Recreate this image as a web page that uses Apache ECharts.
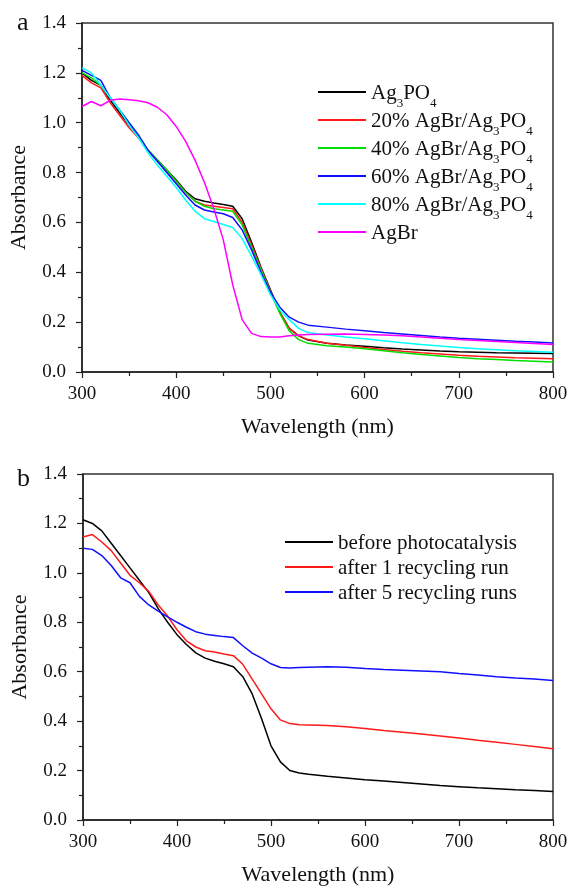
<!DOCTYPE html>
<html><head><meta charset="utf-8">
<script src="https://cdn.jsdelivr.net/npm/echarts@6/dist/echarts.min.js"></script>
<style>html,body{margin:0;padding:0;background:#fff}#c{width:571px;height:887px}</style>
</head><body><div id="c"></div>
<script>
const wavelengths = [300,310,320,330,340,350,360,370,380,390,400,410,420,430,440,450,460,470,480,490,500,510,520,530,540,560,580,600,620,640,660,680,700,720,740,760,780,800];
const xTicks = [300,400,500,600,700,800];
const yTicks = [0,0.2,0.4,0.6,0.8,1.0,1.2,1.4];

// Panel a
const namesA = ['Ag3PO4','20% AgBr/Ag3PO4','40% AgBr/Ag3PO4','60% AgBr/Ag3PO4','80% AgBr/Ag3PO4','AgBr'];
const colorsA = ['#000000','#ff1a1a','#00e000','#1010ff','#00ffff','#ff00ff'];
const ag3po4 = [1.20,1.17,1.15,1.09,1.04,0.99,0.94,0.89,0.85,0.81,0.77,0.725,0.695,0.685,0.678,0.672,0.665,0.615,0.52,0.42,0.33,0.24,0.175,0.145,0.128,0.115,0.108,0.103,0.097,0.092,0.088,0.084,0.081,0.079,0.077,0.076,0.075,0.074];
const agbr20 = [1.19,1.16,1.14,1.08,1.03,0.98,0.94,0.89,0.845,0.805,0.765,0.72,0.685,0.67,0.665,0.66,0.655,0.60,0.51,0.415,0.325,0.24,0.175,0.145,0.13,0.115,0.107,0.098,0.09,0.083,0.077,0.072,0.067,0.063,0.06,0.057,0.055,0.053];
const agbr40 = [1.20,1.18,1.15,1.10,1.05,1.00,0.95,0.89,0.85,0.81,0.765,0.72,0.685,0.665,0.655,0.65,0.645,0.59,0.50,0.41,0.32,0.235,0.165,0.13,0.115,0.105,0.10,0.093,0.085,0.077,0.07,0.064,0.058,0.053,0.05,0.046,0.043,0.040];
const agbr60 = [1.21,1.19,1.17,1.10,1.05,1.00,0.95,0.89,0.845,0.80,0.755,0.71,0.67,0.65,0.642,0.635,0.62,0.57,0.49,0.40,0.32,0.26,0.22,0.20,0.188,0.18,0.172,0.165,0.158,0.152,0.146,0.14,0.135,0.131,0.127,0.123,0.12,0.116];
const agbr80 = [1.22,1.20,1.15,1.10,1.05,0.99,0.94,0.88,0.83,0.785,0.74,0.69,0.645,0.615,0.604,0.592,0.58,0.535,0.465,0.39,0.31,0.25,0.21,0.175,0.158,0.148,0.14,0.133,0.125,0.117,0.11,0.104,0.098,0.093,0.089,0.085,0.082,0.079];
const agbr = [1.065,1.085,1.068,1.09,1.095,1.092,1.088,1.08,1.062,1.032,0.985,0.925,0.85,0.76,0.655,0.53,0.35,0.21,0.155,0.142,0.14,0.14,0.145,0.148,0.15,0.151,0.152,0.15,0.148,0.145,0.14,0.135,0.13,0.126,0.122,0.118,0.114,0.110];
const seriesA = [ag3po4,agbr20,agbr40,agbr60,agbr80,agbr];

// Panel b
const namesB = ['before photocatalysis','after 1 recycling run','after 5 recycling runs'];
const colorsB = ['#000000','#ff1a1a','#1010ff'];
const before = [1.215,1.20,1.17,1.12,1.07,1.02,0.97,0.92,0.855,0.80,0.75,0.71,0.676,0.655,0.642,0.632,0.62,0.58,0.51,0.41,0.30,0.235,0.20,0.19,0.185,0.177,0.17,0.163,0.158,0.152,0.146,0.14,0.135,0.13,0.126,0.122,0.119,0.115];
const run1 = [1.145,1.155,1.125,1.09,1.04,0.99,0.96,0.925,0.87,0.825,0.77,0.725,0.70,0.685,0.68,0.672,0.665,0.63,0.57,0.51,0.45,0.405,0.39,0.385,0.384,0.382,0.377,0.37,0.362,0.355,0.348,0.34,0.332,0.323,0.315,0.306,0.297,0.288];
const run5 = [1.10,1.095,1.07,1.03,0.98,0.96,0.905,0.87,0.845,0.822,0.80,0.78,0.762,0.752,0.747,0.742,0.738,0.705,0.675,0.655,0.632,0.617,0.615,0.617,0.618,0.62,0.618,0.613,0.609,0.606,0.603,0.60,0.593,0.587,0.58,0.575,0.571,0.564];
const seriesB = [before,run1,run5];

const FONT = 'Liberation Serif';
const chart = echarts.init(document.getElementById('c'));
function zip(vals){ return wavelengths.map((w,i)=>[w,vals[i]]); }
function fmtName(n){
  return n.replace(/Ag3PO4/g, '\u0001').split(/(\u0001)/).map(p => p === '\u0001' ? '{n|Ag}{s|3}{n|PO}{s|4}' : (p ? '{n|'+p+'}' : '')).join('');
}
const rich = {
  n: {fontFamily: FONT, fontSize: 21, color: '#111', verticalAlign: 'bottom', lineHeight: 24},
  s: {fontFamily: FONT, fontSize: 13, color: '#111', verticalAlign: 'bottom', lineHeight: 16, padding: [0,0,-6,0]}
};
function xAxis(gi){
  return {gridIndex: gi, type: 'value', min: 300, max: 800, interval: 100,
    axisLine: {show: true, lineStyle: {color: '#222', width: 1.5}},
    axisTick: {show: true, length: 6, lineStyle: {color: '#222', width: 1.2}},
    minorTick: {show: true, splitNumber: 2, length: 4, lineStyle: {color: '#222', width: 1.2}},
    splitLine: {show: false},
    axisLabel: {fontFamily: FONT, fontSize: 19, color: '#111', margin: 13},
    name: 'Wavelength (nm)', nameLocation: 'middle', nameGap: 44,
    nameTextStyle: {fontFamily: FONT, fontSize: 22, color: '#111'}};
}
function yAxis(gi){
  return {gridIndex: gi, type: 'value', min: 0, max: 1.4, interval: 0.2,
    axisLine: {show: true, lineStyle: {color: '#222', width: 1.5}},
    axisTick: {show: true, length: 6, lineStyle: {color: '#222', width: 1.2}},
    minorTick: {show: true, splitNumber: 2, length: 4, lineStyle: {color: '#222', width: 1.2}},
    splitLine: {show: false},
    axisLabel: {fontFamily: FONT, fontSize: 19, color: '#111', margin: 16, formatter: v => v.toFixed(1)},
    name: 'Absorbance', nameLocation: 'middle', nameGap: 52,
    nameTextStyle: {fontFamily: FONT, fontSize: 22, color: '#111'}};
}
const series = [];
namesA.forEach((n,i)=>series.push({name:n, type:'line', xAxisIndex:0, yAxisIndex:0, data: zip(seriesA[i]), symbol:'none', showSymbol:false, color: colorsA[i], lineStyle:{width:1.5, color: colorsA[i]}, animation:false}));
namesB.forEach((n,i)=>series.push({name:n, type:'line', xAxisIndex:1, yAxisIndex:1, data: zip(seriesB[i]), symbol:'none', showSymbol:false, color: colorsB[i], lineStyle:{width:1.5, color: colorsB[i]}, animation:false}));

chart.setOption({
  backgroundColor: '#fff',
  animation: false,
  title: [
    {text: 'a', left: 12, top: 5, textStyle: {fontFamily: FONT, fontSize: 26, fontWeight: 'normal', color: '#111'}},
    {text: 'b', left: 12, top: 461, textStyle: {fontFamily: FONT, fontSize: 26, fontWeight: 'normal', color: '#111'}}
  ],
  grid: [
    {left: 82, right: 18, top: 23, height: 349, show: true, borderColor: '#333', borderWidth: 1.5, backgroundColor: 'transparent'},
    {left: 83, right: 18, top: 474, height: 349, show: true, borderColor: '#333', borderWidth: 1.5, backgroundColor: 'transparent'}
  ],
  xAxis: [xAxis(0), xAxis(1)],
  yAxis: [yAxis(0), yAxis(1)],
  legend: [
    {data: namesA, orient: 'vertical', left: 318, top: 83, padding: 0, icon: 'rect', itemWidth: 48, itemHeight: 2, itemGap: 1,
     formatter: fmtName, textStyle: {rich: rich}, selectedMode: false},
    {data: namesB, orient: 'vertical', left: 285, top: 533, padding: 0, icon: 'rect', itemWidth: 48, itemHeight: 2, itemGap: 4,
     formatter: n => '{n|'+n+'}', textStyle: {rich: rich}, selectedMode: false}
  ],
  series: series
});
</script></body></html>
